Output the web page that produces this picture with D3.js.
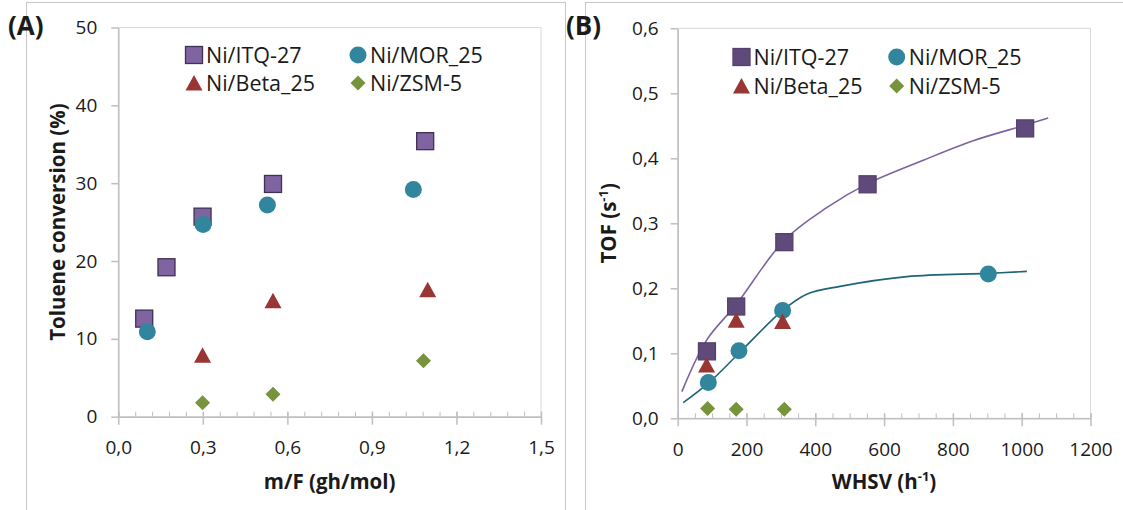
<!DOCTYPE html>
<html>
<head>
<meta charset="utf-8">
<script src="https://cdn.jsdelivr.net/npm/d3@7"></script>
<style>
  body { margin: 0; background: #fff; }
  text { font-family: "Open Sans", sans-serif; fill: #1a1a1a; }
</style>
</head>
<body>
<svg id="chart" width="1123" height="510"></svg>
<script>
// legend / series names (same order in both panels)
const seriesNames = ["Ni/ITQ-27", "Ni/MOR_25", "Ni/Beta_25", "Ni/ZSM-5"];

// (A) toluene conversion (%) vs m/F (gh/mol)
const mfITQ = [0.092, 0.171, 0.299, 0.549, 1.089];
const convITQ = [12.6, 19.2, 25.7, 29.9, 35.4];
const mfMOR = [0.103, 0.301, 0.529, 1.047];
const convMOR = [10.9, 24.7, 27.2, 29.2];
const mfBeta = [0.299, 0.549, 1.098];
const convBeta = [7.9, 14.9, 16.3];
const mfZSM = [0.299, 0.549, 1.083];
const convZSM = [1.8, 2.9, 7.2];

// (B) TOF (s-1) vs WHSV (h-1)
const whsvITQ = [85, 170, 310, 552, 1010];
const tofITQ = [0.103, 0.172, 0.271, 0.360, 0.446];
const whsvMOR = [89, 178, 305, 903];
const tofMOR = [0.055, 0.104, 0.166, 0.222];
const whsvBeta = [84, 170, 305];
const tofBeta = [0.082, 0.151, 0.149];
const whsvZSM = [87, 170, 310];
const tofZSM = [0.015, 0.014, 0.014];

// trend lines in (B)
const fitITQx = [12, 85, 170, 310, 433, 552, 714, 859, 1010, 1077];
const fitITQy = [0.041, 0.121, 0.175, 0.274, 0.324, 0.361, 0.397, 0.427, 0.451, 0.462];
const fitMORx = [16, 89, 178, 305, 375, 472, 666, 903, 1015];
const fitMORy = [0.024, 0.054, 0.100, 0.166, 0.191, 0.203, 0.218, 0.223, 0.226];

// axis ticks
const ticksAx = [0, 0.3, 0.6, 0.9, 1.2, 1.5];
const minorAx = d3.range(0, 26).map(i => i * 0.06);
const ticksAy = [0, 10, 20, 30, 40, 50];
const ticksBx = [0, 200, 400, 600, 800, 1000, 1200];
const minorBx = d3.range(0, 25).map(i => i * 50);
const ticksBy = [0, 0.1, 0.2, 0.3, 0.4, 0.5, 0.6];

const svg = d3.select("#chart");
const loc = d3.formatLocale({decimal: ",", thousands: "", grouping: [3], currency: ["", ""]});

const axisGray = "#bfbfbf";

// marker drawing, centred on (0,0)
const markers = {
  square: (g, c) => g.append("rect").attr("x", -8.5).attr("y", -8.5).attr("width", 17).attr("height", 17)
      .attr("fill", c.fill).attr("stroke", c.stroke).attr("stroke-width", 1.3),
  circle: (g, c) => g.append("circle").attr("r", 8.5).attr("fill", c.fill),
  triangle: (g, c) => g.append("path").attr("d", "M0,-8L8.5,7.5L-8.5,7.5Z").attr("fill", c.fill),
  diamond: (g, c) => g.append("path").attr("d", "M0,-7.5L7.5,0L0,7.5L-7.5,0Z").attr("fill", c.fill)
};

function panel(o) {
  const g = svg.append("g");
  const x = d3.scaleLinear().domain(o.xDomain).range(o.xRange);
  const y = d3.scaleLinear().domain(o.yDomain).range(o.yRange);

  // chart frame
  g.append("rect").attr("x", o.frame[0]).attr("y", 2.5).attr("width", o.frame[1] - o.frame[0])
    .attr("height", 540).attr("fill", "none").attr("stroke", "#c8c8c8").attr("stroke-width", 1);

  // plot area border
  g.append("rect").attr("x", x.range()[0]).attr("y", y.range()[1])
    .attr("width", x.range()[1] - x.range()[0]).attr("height", y.range()[0] - y.range()[1])
    .attr("fill", "none").attr("stroke", "#d9d9d9").attr("stroke-width", 1);

  // minor x ticks (inside)
  g.append("g").attr("transform", `translate(0,${y(0)})`)
    .call(d3.axisBottom(x).tickValues(o.minor).tickSize(-5).tickSizeOuter(0).tickFormat(""))
    .call(a => a.select(".domain").remove())
    .selectAll("line").attr("stroke", axisGray);

  // major x ticks, crossing the axis
  const ax = g.append("g").attr("transform", `translate(0,${y(0)})`)
    .call(d3.axisBottom(x).tickValues(o.xTicks).tickSize(8).tickSizeOuter(0).tickPadding(16).tickFormat(o.xFmt));
  ax.selectAll(".tick line").attr("y1", -5).attr("stroke", axisGray).attr("stroke-width", 1.5);
  ax.select(".domain").attr("stroke", axisGray).attr("stroke-width", 1.5);
  ax.selectAll("text").attr("font-size", 19).attr("font-family", "Open Sans").attr("fill", "#1a1a1a");

  const ay = g.append("g").attr("transform", `translate(${x(0)},0)`)
    .call(d3.axisLeft(y).tickValues(o.yTicks).tickSize(7).tickSizeOuter(0).tickPadding(o.yPad).tickFormat(o.yFmt));
  ay.selectAll(".tick line").attr("stroke", axisGray).attr("stroke-width", 1.5);
  ay.select(".domain").attr("stroke", axisGray).attr("stroke-width", 1.5);
  ay.selectAll("text").attr("font-size", 19).attr("font-family", "Open Sans").attr("fill", "#1a1a1a");

  // panel letter
  g.append("text").attr("x", o.letterX).attr("y", 35).attr("font-size", 26).attr("font-weight", "bold").text(o.letter);

  // axis titles
  const xt = g.append("text").attr("x", (x.range()[0] + x.range()[1]) / 2).attr("y", 489)
    .attr("text-anchor", "middle").attr("font-size", 20.5).attr("font-weight", "bold");
  xt.append("tspan").text(o.xTitle[0]);
  if (o.xTitle[1]) {
    xt.append("tspan").attr("font-size", 13).attr("dy", -8).text(o.xTitle[1]);
    xt.append("tspan").attr("dy", 8).text(o.xTitle[2]);
  }
  const yt = g.append("text").attr("transform", `translate(${o.yTitleX},${(y.range()[0] + y.range()[1]) / 2}) rotate(-90)`)
    .attr("text-anchor", "middle").attr("font-size", 20.5).attr("font-weight", "bold");
  yt.append("tspan").text(o.yTitle[0]);
  if (o.yTitle[1]) {
    yt.append("tspan").attr("font-size", 13).attr("dy", -8).text(o.yTitle[1]);
    yt.append("tspan").attr("dy", 8).text(o.yTitle[2]);
  }

  // trend lines
  const line = d3.line().x(d => x(d[0])).y(d => y(d[1])).curve(d3.curveCatmullRom.alpha(0.5));
  (o.fits || []).forEach(f => {
    g.append("path").attr("d", line(d3.zip(f.xs, f.ys))).attr("fill", "none")
      .attr("stroke", f.color).attr("stroke-width", 1.6);
  });

  // points
  o.series.forEach(s => {
    d3.zip(s.xs, s.ys).forEach(p => {
      const m = g.append("g").attr("transform", `translate(${x(p[0])},${y(p[1])})`);
      markers[s.shape](m, s);
    });
  });

  // legend, 2 x 2
  o.series.forEach((s, i) => {
    const lx = o.legend.cols[i % 2], ly = o.legend.rows[Math.floor(i / 2)];
    const m = g.append("g").attr("transform", `translate(${lx},${ly})`);
    markers[s.shape](m, s);
    g.append("text").attr("x", lx + 12).attr("y", ly + 7.5).attr("font-size", 21.5).text(s.name);
  });
}

panel({
  letter: "(A)", letterX: 8, frame: [26.5, 565.5],
  xDomain: [0, 1.5], xRange: [118.3, 541],
  yDomain: [0, 50], yRange: [416.7, 27.5],
  xTicks: ticksAx, minor: minorAx, yTicks: ticksAy, yPad: 14,
  xFmt: loc.format(".1f"), yFmt: d3.format("d"),
  xTitle: ["m/F (gh/mol)"], yTitle: ["Toluene conversion (%)"], yTitleX: 65,
  legend: {cols: [194, 358], rows: [55, 83]},
  series: [
    {name: seriesNames[0], xs: mfITQ, ys: convITQ, shape: "square", fill: "#8064A2", stroke: "#3F3151"},
    {name: seriesNames[1], xs: mfMOR, ys: convMOR, shape: "circle", fill: "#31859C"},
    {name: seriesNames[2], xs: mfBeta, ys: convBeta, shape: "triangle", fill: "#993533"},
    {name: seriesNames[3], xs: mfZSM, ys: convZSM, shape: "diamond", fill: "#77933C"}
  ]
});

panel({
  letter: "(B)", letterX: 566, frame: [585.5, 1140],
  xDomain: [0, 1200], xRange: [677.7, 1090.5],
  yDomain: [0, 0.6], yRange: [418.3, 28.3],
  xTicks: ticksBx, minor: minorBx, yTicks: ticksBy, yPad: 12,
  xFmt: d3.format("d"), yFmt: loc.format(".1f"),
  xTitle: ["WHSV (h", "-1", ")"], yTitle: ["TOF (s", "-1", ")"], yTitleX: 616,
  legend: {cols: [741.5, 896.7], rows: [57, 86]},
  fits: [
    {xs: fitITQx, ys: fitITQy, color: "#7D62A0"},
    {xs: fitMORx, ys: fitMORy, color: "#1F6475"}
  ],
  series: [
    {name: seriesNames[0], xs: whsvITQ, ys: tofITQ, shape: "square", fill: "#604A7B", stroke: "#54416C"},
    {name: seriesNames[1], xs: whsvMOR, ys: tofMOR, shape: "circle", fill: "#31859C"},
    {name: seriesNames[2], xs: whsvBeta, ys: tofBeta, shape: "triangle", fill: "#993533"},
    {name: seriesNames[3], xs: whsvZSM, ys: tofZSM, shape: "diamond", fill: "#77933C"}
  ]
});
</script>
</body>
</html>
